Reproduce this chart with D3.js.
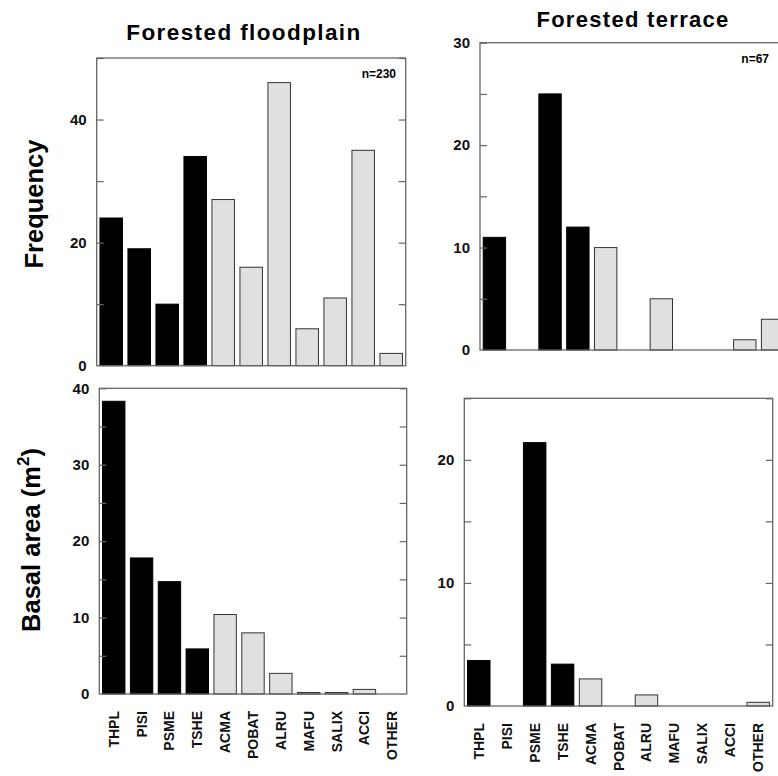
<!DOCTYPE html>
<html>
<head>
<meta charset="utf-8">
<script src="https://cdn.jsdelivr.net/npm/d3@7"></script>
<style>
  body { margin: 0; background: #fff; }
  svg { display: block; font-family: "Liberation Sans", Arial, sans-serif; }
</style>
</head>
<body>
<div id="chart"></div>
<script>
// species codes, first four are conifers (black bars)
const species = ["THPL", "PISI", "PSME", "TSHE", "ACMA", "POBAT", "ALRU", "MAFU", "SALIX", "ACCI", "OTHER"];
const conifers = ["THPL", "PISI", "PSME", "TSHE"];

const floodplainFreq = [24, 19, 10, 34, 27, 16, 46, 6, 11, 35, 2];
const terraceFreq = [11, 0, 25, 12, 10, 0, 5, 0, 0, 1, 3];
const floodplainBasal = [38.3, 17.8, 14.7, 5.9, 10.4, 8.0, 2.7, 0.2, 0.2, 0.6, 0];
const terraceBasal = [3.7, 0, 21.4, 3.4, 2.2, 0, 0.9, 0, 0, 0, 0.3];

const floodplainFreqTicks = [0, 20, 40];
const terraceFreqTicks = [0, 10, 20, 30];
const floodplainBasalTicks = [0, 10, 20, 30, 40];
const terraceBasalTicks = [0, 10, 20];

const columnTitles = ["Forested floodplain", "Forested terrace"];
const sampleSizes = ["n=230", "n=67"];

(function() {
  const W = 778, H = 776;
  const svg = d3.select("#chart").append("svg").attr("width", W).attr("height", H);

  const panels = [
    { values: floodplainFreq, labels: floodplainFreqTicks, max: 50, step: 10,
      x0: 96.7, x1: 405.7, y0: 58, y1: 365.7, note: sampleSizes[0], noteX: 396, noteY: 78, showX: false },
    { values: terraceFreq, labels: terraceFreqTicks, max: 30, step: 5,
      x0: 480, x1: 787, y0: 42.7, y1: 350, note: sampleSizes[1], noteX: 769, noteY: 63, showX: false },
    { values: floodplainBasal, labels: floodplainBasalTicks, max: 40, step: 5,
      x0: 99.3, x1: 406.7, y0: 388.3, y1: 694, showX: true },
    { values: terraceBasal, labels: terraceBasalTicks, max: 25, step: 5,
      x0: 464.3, x1: 772.7, y0: 398.3, y1: 706, showX: true }
  ];

  panels.forEach(p => {
    const x = d3.scaleBand().domain(species).range([p.x0, p.x1])
      .paddingInner(0.196).paddingOuter(0.116);
    const y = d3.scaleLinear().domain([0, p.max]).range([p.y1, p.y0]);
    const g = svg.append("g");

    // bars
    g.selectAll("rect.bar")
      .data(species.map((s, i) => ({ s, v: p.values[i] })).filter(d => d.v > 0))
      .join("rect")
      .attr("class", "bar")
      .attr("x", d => x(d.s))
      .attr("width", x.bandwidth())
      .attr("y", d => y(d.v))
      .attr("height", d => y(0) - y(d.v))
      .attr("fill", d => conifers.includes(d.s) ? "#000" : "#e0e0e0")
      .attr("stroke", d => conifers.includes(d.s) ? "#000" : "#333")
      .attr("stroke-width", 1);

    // inward ticks on both sides
    const tickVals = d3.range(p.step, p.max + 0.001, p.step);
    const left = d3.axisLeft(y).tickValues(tickVals).tickSize(-7).tickFormat("");
    const right = d3.axisRight(y).tickValues(tickVals).tickSize(-7).tickFormat("");
    [g.append("g").attr("transform", `translate(${p.x0},0)`).call(left),
     g.append("g").attr("transform", `translate(${p.x1},0)`).call(right)]
      .forEach(a => {
        a.select(".domain").remove();
        a.selectAll(".tick line").attr("stroke", "#666").attr("stroke-width", 1.2);
      });

    // tick labels
    const lab = d3.axisLeft(y).tickValues(p.labels).tickSize(0).tickPadding(10);
    const la = g.append("g").attr("transform", `translate(${p.x0},0)`).call(lab);
    la.select(".domain").remove();
    la.selectAll("text").attr("font-size", 15).attr("font-weight", "bold")
      .attr("font-family", "Liberation Sans, Arial, sans-serif").attr("fill", "#111");

    // frame
    g.append("rect")
      .attr("x", p.x0).attr("y", p.y0)
      .attr("width", p.x1 - p.x0).attr("height", p.y1 - p.y0)
      .attr("fill", "none").attr("stroke", "#666").attr("stroke-width", 1.3);

    if (p.note) {
      g.append("text").attr("x", p.noteX).attr("y", p.noteY)
        .attr("text-anchor", "end").attr("font-size", 12).attr("font-weight", "bold")
        .text(p.note);
    }

    if (p.showX) {
      const xa = d3.axisBottom(x).tickSize(0).tickPadding(0);
      const xg = g.append("g").attr("transform", `translate(0,${p.y1})`).call(xa);
      xg.select(".domain").remove();
      xg.selectAll("text")
        .attr("font-size", 14).attr("font-weight", "bold")
        .attr("font-family", "Liberation Sans, Arial, sans-serif").attr("fill", "#111")
        .attr("text-anchor", "end")
        .attr("transform", "rotate(-90)")
        .attr("x", -17).attr("y", 0).attr("dy", "0.36em");
    }
  });

  // column titles
  svg.append("text").attr("x", 244).attr("y", 40).attr("text-anchor", "middle")
    .attr("font-size", 22.5).attr("font-weight", "bold").attr("letter-spacing", 1.4)
    .text(columnTitles[0]);
  svg.append("text").attr("x", 633).attr("y", 27).attr("text-anchor", "middle")
    .attr("font-size", 22).attr("font-weight", "bold").attr("letter-spacing", 1.3)
    .text(columnTitles[1]);

  // y axis titles
  svg.append("text")
    .attr("transform", "translate(43,204) rotate(-90)")
    .attr("text-anchor", "middle").attr("font-size", 25.5).attr("font-weight", "bold")
    .text("Frequency");

  const basal = svg.append("text")
    .attr("transform", "translate(40,540) rotate(-90)")
    .attr("text-anchor", "middle").attr("font-size", 25.5).attr("font-weight", "bold");
  basal.append("tspan").text("Basal area (m");
  basal.append("tspan").attr("font-size", 17).attr("dy", -11).text("2");
  basal.append("tspan").attr("dy", 11).text(")");
})();
</script>
</body>
</html>
